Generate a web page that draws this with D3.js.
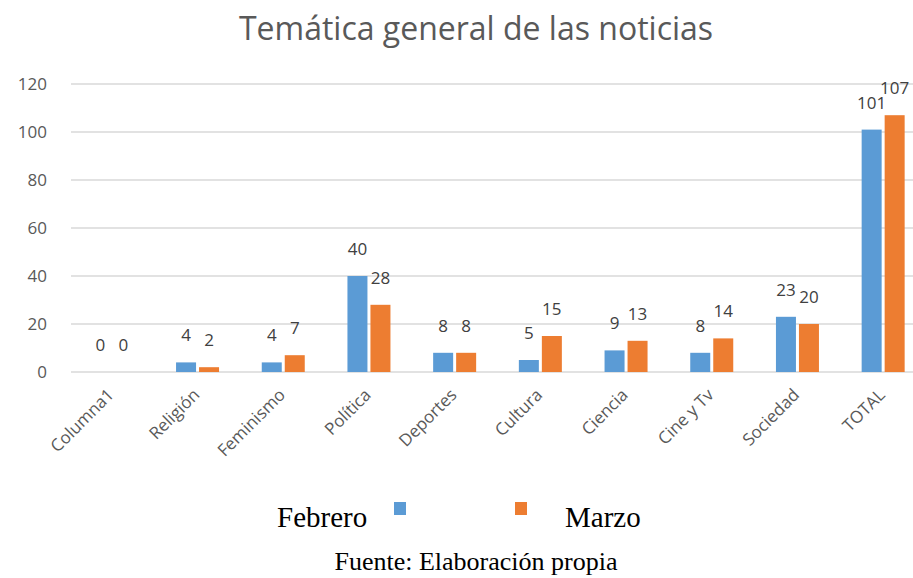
<!DOCTYPE html>
<html lang="es">
<head>
<meta charset="UTF-8" />
<title>Temática general de las noticias</title>
<script src="https://d3js.org/d3.v7.min.js"></script>
<style>
  body { margin: 0; background: #fff; }
  svg { display: block; }
  .grid line { stroke: #d9d9d9; stroke-width: 1.5; }
  .ylab { font-family: "Open Sans", sans-serif; font-size: 17px; fill: #595959; }
  .xlab { font-family: "Open Sans", sans-serif; font-size: 17px; fill: #595959; }
  .val { font-family: "Open Sans", sans-serif; font-size: 17px; fill: #404040; }
</style>
</head>
<body>
<div id="chart"></div>
<script>
// data
const categories = ["Columna1", "Religión", "Feminismo", "Política", "Deportes",
                    "Cultura", "Ciencia", "Cine y Tv", "Sociedad", "TOTAL"];
const febrero = [0, 4, 4, 40, 8, 5, 9, 8, 23, 101];
const marzo = [0, 2, 7, 28, 8, 15, 13, 14, 20, 107];
const yTicks = [0, 20, 40, 60, 80, 100, 120];

const W = 913, H = 578;
const blue = "#5b9bd5", orange = "#ed7d31";

const svg = d3.select("#chart").append("svg")
  .attr("width", W).attr("height", H);

// scales
const x = d3.scaleBand().domain(categories).range([69, 926]);
const y = d3.scaleLinear().domain([0, 120]).range([372, 84]);

// title
svg.append("text")
  .attr("x", 476).attr("y", 40)
  .attr("text-anchor", "middle")
  .style("font-family", "'Open Sans', sans-serif")
  .style("font-size", "32px")
  .style("fill", "#595959")
  .text("Temática general de las noticias");

// gridlines
svg.append("g").attr("class", "grid")
  .selectAll("line").data(yTicks).join("line")
  .attr("x1", 71).attr("x2", W)
  .attr("y1", d => y(d)).attr("y2", d => y(d));

// y labels
svg.append("g").selectAll("text").data(yTicks).join("text")
  .attr("class", "ylab")
  .attr("x", 47).attr("y", d => y(d) + 6)
  .attr("text-anchor", "end")
  .text(d => d);

const bw = 20;
const series = [
  { vals: febrero, color: blue, dx: -21.5 },
  { vals: marzo, color: orange, dx: 1.5 }
];

series.forEach(s => {
  const g = svg.append("g");
  g.selectAll("rect").data(categories).join("rect")
    .attr("x", (c) => x(c) + x.bandwidth() / 2 + s.dx)
    .attr("y", (c, i) => y(s.vals[i]))
    .attr("width", bw)
    .attr("height", (c, i) => y(0) - y(s.vals[i]))
    .attr("fill", s.color);
  g.selectAll("text").data(categories).join("text")
    .attr("class", "val")
    .attr("x", (c) => x(c) + x.bandwidth() / 2 + s.dx + bw / 2)
    .attr("y", (c, i) => y(s.vals[i]) - 21)
    .attr("text-anchor", "middle")
    .text((c, i) => s.vals[i]);
});

// x labels, rotated
svg.append("g").selectAll("text").data(categories).join("text")
  .attr("class", "xlab")
  .attr("text-anchor", "end")
  .attr("transform", c => "translate(" + (x(c) + x.bandwidth() / 2 + 3) + ",396) rotate(-45)")
  .text(c => c);

// legend
const legend = [
  { name: "Febrero", color: blue, tx: 277, sx: 394 },
  { name: "Marzo", color: orange, tx: 565, sx: 515 }
];
legend.forEach(l => {
  svg.append("rect")
    .attr("x", l.sx).attr("y", 502).attr("width", 12).attr("height", 13)
    .attr("fill", l.color);
  svg.append("text")
    .attr("x", l.tx).attr("y", 527)
    .style("font-family", "'Liberation Serif', 'Times New Roman', serif")
    .style("font-size", "29px")
    .style("fill", "#000")
    .text(l.name);
});

svg.append("text")
  .attr("x", 476).attr("y", 570)
  .attr("text-anchor", "middle")
  .style("font-family", "'Liberation Serif', 'Times New Roman', serif")
  .style("font-size", "26px")
  .style("fill", "#000")
  .text("Fuente: Elaboración propia");
</script>
</body>
</html>
